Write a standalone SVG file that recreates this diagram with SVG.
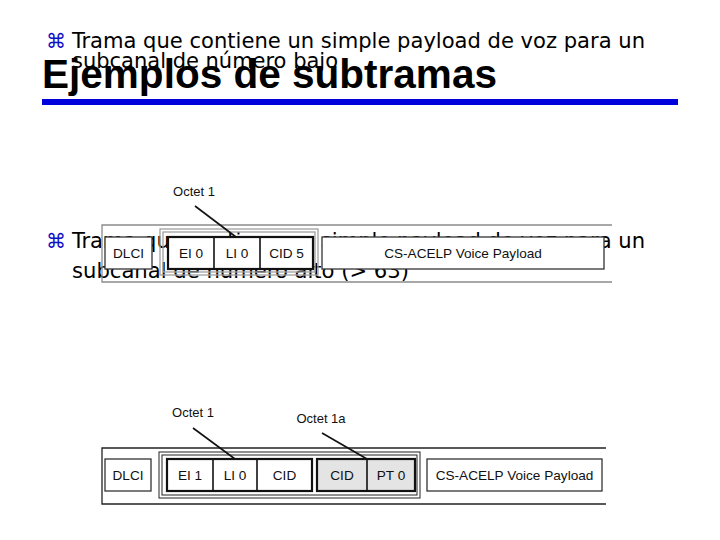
<svg xmlns="http://www.w3.org/2000/svg" width="720" height="540" viewBox="0 0 720 540">
<style>
.bul{font-family:"DejaVu Sans",sans-serif;font-size:20px;fill:#1010c8}
.txt{font-family:"DejaVu Sans Condensed","DejaVu Sans","Liberation Sans",sans-serif;font-size:22px;fill:#000}
.title{font-family:"Liberation Sans",Arial,sans-serif;font-size:41px;font-weight:bold;fill:#000}
.lbl{font-family:"Liberation Sans",Arial,sans-serif;font-size:13.6px;fill:#111;text-anchor:middle}
.oct{font-family:"Liberation Sans",Arial,sans-serif;font-size:13px;fill:#111;text-anchor:middle}
.box{fill:#fff;stroke:#333;stroke-width:1.3}
.grp{fill:none;stroke:#111;stroke-width:2.2}
.div{stroke:#111;stroke-width:1.6}
.g1a{fill:#e4e4e4}
.lead{stroke:#111;stroke-width:1.6;fill:none}
</style>

<!-- bullet texts -->
<g id="bullet1">
<text class="bul" x="46" y="48">⌘</text>
<text class="txt" x="72" y="48" textLength="573" lengthAdjust="spacingAndGlyphs">Trama que contiene un simple payload de voz para un</text>
<text class="txt" x="72" y="68" textLength="266" lengthAdjust="spacingAndGlyphs">subcanal de número bajo</text>
</g>

<g id="title">
<text class="title" x="42" y="88" textLength="455" lengthAdjust="spacingAndGlyphs">Ejemplos de subtramas</text>
<rect x="42" y="99" width="636" height="6" fill="#0000dd"/>
</g>

<g id="bullet2">
<text class="bul" x="46" y="248">⌘</text>
<text class="txt" x="72" y="248" textLength="573" lengthAdjust="spacingAndGlyphs">Trama que contiene un simple payload de voz para un</text>
<text class="txt" x="72" y="278" textLength="337" lengthAdjust="spacingAndGlyphs">subcanal de número alto (&gt; 63)</text>
</g>

<!-- Diagram 1 -->
<g id="frame1" fill="none" stroke="#8c8c8c" stroke-width="1.3">
<path d="M612,225 H102 V282 H612"/>
<rect x="160" y="229" width="158" height="46" stroke="#a0a0a0"/>
<rect x="163" y="232" width="152" height="40" stroke="#a0a0a0"/>
</g>
<g id="d1-dlci"><rect class="box" x="105" y="237" width="47" height="32" stroke="#555"/><text class="lbl" x="128.5" y="258">DLCI</text></g>
<g id="d1-octet1">
<rect x="168" y="237" width="145" height="32" fill="#fff"/>
<line class="div" x1="214" y1="237" x2="214" y2="269"/>
<line class="div" x1="260" y1="237" x2="260" y2="269"/>
<rect class="grp" x="168" y="237" width="145" height="32"/>
<text class="lbl" x="191" y="258">EI 0</text>
<text class="lbl" x="237" y="258">LI 0</text>
<text class="lbl" x="286.5" y="258">CID 5</text>
</g>
<g id="d1-payload"><rect class="box" x="322" y="237" width="282" height="32"/><text class="lbl" x="463" y="258">CS-ACELP Voice Payload</text></g>
<g id="d1-label"><text class="oct" x="194" y="196">Octet 1</text></g>

<!-- Diagram 2 -->
<g id="frame2" fill="none" stroke="#222" stroke-width="1.3">
<path d="M606,448 H102 V504 H606"/>
<rect x="159" y="452" width="261" height="46" stroke-width="1"/>
<rect x="162" y="455" width="255" height="40" stroke-width="1"/>
</g>
<g id="d2-dlci"><rect class="box" x="105" y="459" width="46" height="32"/><text class="lbl" x="128" y="480">DLCI</text></g>
<g id="d2-octet1">
<rect x="167" y="459" width="145" height="32" fill="#fff"/>
<line class="div" x1="213" y1="459" x2="213" y2="491"/>
<line class="div" x1="257" y1="459" x2="257" y2="491"/>
<rect class="grp" x="167" y="459" width="145" height="32"/>
<text class="lbl" x="190" y="480">EI 1</text>
<text class="lbl" x="235" y="480">LI 0</text>
<text class="lbl" x="284.5" y="480">CID</text>
</g>
<g id="d2-octet1a">
<rect class="g1a" x="317" y="459" width="98" height="32"/>
<line class="div" x1="367" y1="459" x2="367" y2="491"/>
<rect class="grp" x="317" y="459" width="98" height="32"/>
<text class="lbl" x="342" y="480">CID</text>
<text class="lbl" x="391" y="480">PT 0</text>
</g>
<g id="d2-payload"><rect class="box" x="427" y="459" width="175" height="32"/><text class="lbl" x="514.5" y="480">CS-ACELP Voice Payload</text></g>
<g id="d2-labels">
<text class="oct" x="193" y="417">Octet 1</text>
<text class="oct" x="321" y="423">Octet 1a</text>
</g>

<g id="connectors">
<line class="lead" x1="195" y1="206" x2="236" y2="237"/>
<line class="lead" x1="193" y1="428" x2="235" y2="459"/>
<line class="lead" x1="322" y1="433" x2="367" y2="459"/>
</g>
</svg>
